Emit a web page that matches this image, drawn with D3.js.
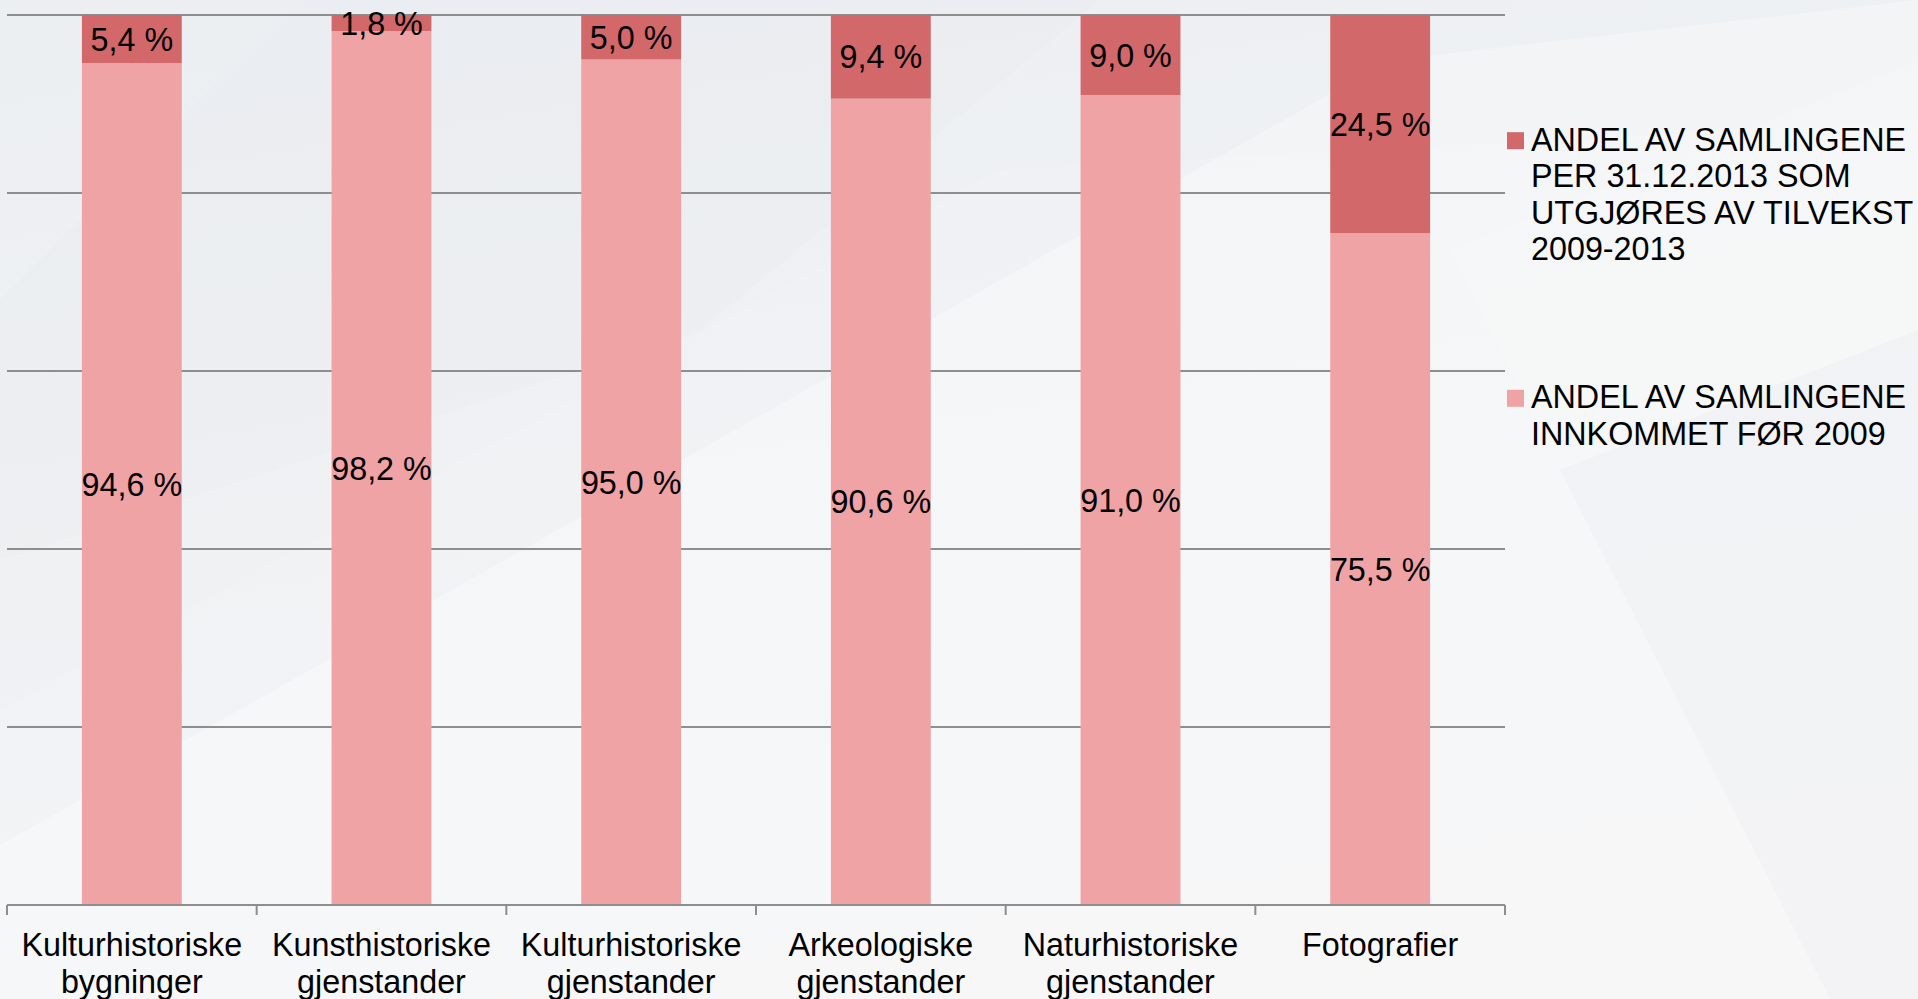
<!DOCTYPE html>
<html>
<head>
<meta charset="utf-8">
<script src="https://cdn.jsdelivr.net/npm/d3@7"></script>
<style>
  html, body { margin: 0; padding: 0; overflow: hidden; background: #eef0f3; }
  svg { display: block; }
  text { font-family: "Liberation Sans", Arial, sans-serif; fill: #000; }
</style>
</head>
<body>
<svg id="chart" width="1918" height="999"></svg>
<script>
// ---- data ----
const categories = [
  ["Kulturhistoriske", "bygninger"],
  ["Kunsthistoriske", "gjenstander"],
  ["Kulturhistoriske", "gjenstander"],
  ["Arkeologiske", "gjenstander"],
  ["Naturhistoriske", "gjenstander"],
  ["Fotografier"]
];
const categoryKeys = ["c1", "c2", "c3", "c4", "c5", "c6"];
const before2009 = [94.6, 98.2, 95.0, 90.6, 91.0, 75.5];
const growth2009_2013 = [5.4, 1.8, 5.0, 9.4, 9.0, 24.5];
const yTicks = [0, 20, 40, 60, 80, 100];
const seriesNames = [
  ["ANDEL AV SAMLINGENE", "PER 31.12.2013 SOM", "UTGJØRES AV TILVEKST", "2009-2013"],
  ["ANDEL AV SAMLINGENE", "INNKOMMET FØR 2009"]
];
const seriesColors = ["#d3686a", "#f0a3a5"];

// ---- layout ----
const svg = d3.select("#chart");
const W = 1918, H = 999;
const FS = 32.3;

// background
const defs = svg.append("defs");
const bg = defs.append("linearGradient").attr("id", "bg")
  .attr("x1", "0").attr("y1", "0").attr("x2", "0.3").attr("y2", "1");
bg.append("stop").attr("offset", "0").attr("stop-color", "#eceff2");
bg.append("stop").attr("offset", "1").attr("stop-color", "#f2f3f5");
svg.append("rect").attr("width", W).attr("height", H).attr("fill", "url(#bg)");
const bgShapes = [
  {pts: [[0,845],[1390,60],[1918,0],[1918,999],[0,999]], fill: "#ffffff", op: 0.3},
  {pts: [[0,710],[1000,170],[1918,120],[1918,999],[0,999]], fill: "#ffffff", op: 0.12},
  {pts: [[300,0],[1100,0],[700,330],[0,560],[0,300]], fill: "#e3e6ea", op: 0.15},
  {pts: [[1560,470],[1918,330],[1918,999],[1830,999]], fill: "#e2e5e9", op: 0.18},
  {pts: [[1450,250],[1918,60],[1918,330],[1560,470]], fill: "#ffffff", op: 0.1}
];
svg.append("g").selectAll("polygon").data(bgShapes).join("polygon")
  .attr("points", d => d.pts.map(p => p.join(",")).join(" "))
  .attr("fill", d => d.fill).attr("opacity", d => d.op);

const x = d3.scaleBand().domain(categoryKeys).range([7, 1505]).padding(0);
const y = d3.scaleLinear().domain([0, 100]).range([905, 15]);
const barW = x.bandwidth() * 0.4;
const barOff = (x.bandwidth() - barW) / 2;

// gridlines
svg.append("g").selectAll("line").data(yTicks.filter(t => t > 0)).join("line")
  .attr("x1", 7).attr("x2", 1505)
  .attr("y1", d => y(d)).attr("y2", d => y(d))
  .attr("stroke", "#8e8e8e").attr("stroke-width", 2);

// stacked bars
const rows = categoryKeys.map((k, i) => ({key: k, before: before2009[i], growth: growth2009_2013[i]}));
const stack = d3.stack().keys(["before", "growth"])(rows);
const colorFor = {before: seriesColors[1], growth: seriesColors[0]};

const layers = svg.append("g").selectAll("g").data(stack).join("g")
  .attr("fill", d => colorFor[d.key]);
layers.selectAll("rect").data(d => d).join("rect")
  .attr("x", d => x(d.data.key) + barOff)
  .attr("width", barW)
  .attr("y", d => y(d[1]))
  .attr("height", d => y(d[0]) - y(d[1]));

// value labels
const fmt = v => v.toFixed(1).replace(".", ",") + " %";
const labelG = svg.append("g").attr("font-size", FS).attr("text-anchor", "middle");
stack.forEach(layer => {
  labelG.selectAll(null).data(layer).join("text")
    .attr("x", d => x(d.data.key) + x.bandwidth() / 2)
    .attr("y", d => (y(d[0]) + y(d[1])) / 2 + 11.5)
    .text(d => fmt(d[1] - d[0]));
});

// x axis
const xAxis = d3.axisBottom(x).tickSize(0).tickFormat("");
const axG = svg.append("g").attr("transform", "translate(0,905)").call(xAxis);
axG.select(".domain").attr("stroke", "#8e8e8e").attr("stroke-width", 2)
  .attr("d", "M7,0H1505");
const boundaries = categoryKeys.map(k => x(k)).concat([x.range()[1]]);
axG.selectAll(".bound").data(boundaries).join("line").attr("class", "bound")
  .attr("x1", d => d).attr("x2", d => d).attr("y1", 0).attr("y2", 10)
  .attr("stroke", "#8e8e8e").attr("stroke-width", 2);

// category labels
const catG = svg.append("g").attr("font-size", FS).attr("text-anchor", "middle");
categoryKeys.forEach((k, i) => {
  const t = catG.append("text").attr("x", x(k) + x.bandwidth() / 2).attr("y", 956);
  categories[i].forEach((line, j) => {
    t.append("tspan").attr("x", x(k) + x.bandwidth() / 2).attr("dy", j === 0 ? 0 : 36.5).text(line);
  });
});

// legend
const legendTops = [150.7, 408.3];
const legG = svg.append("g").attr("font-size", FS);
seriesNames.forEach((lines, i) => {
  legG.append("rect").attr("x", 1507).attr("y", legendTops[i] - 18.5)
    .attr("width", 17).attr("height", 17).attr("fill", seriesColors[i]);
  const t = legG.append("text").attr("x", 1531).attr("y", legendTops[i]);
  lines.forEach((line, j) => {
    t.append("tspan").attr("x", 1531).attr("dy", j === 0 ? 0 : 36.5).text(line);
  });
});
</script>
</body>
</html>
